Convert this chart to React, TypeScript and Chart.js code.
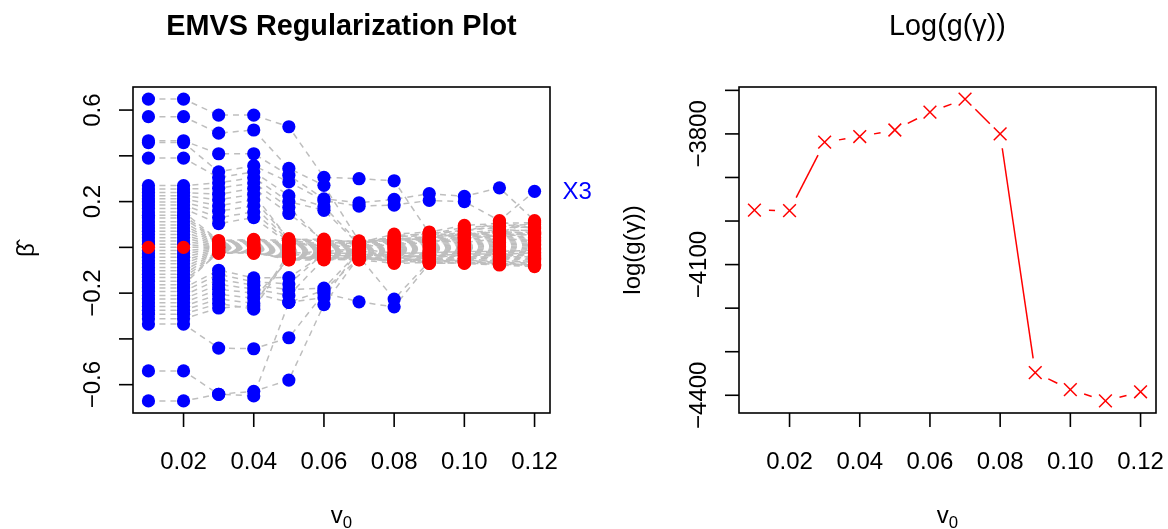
import React, { useEffect, useRef } from "react";
import { Chart, registerables } from "chart.js";

Chart.register(...registerables);

// ---------- data ----------
const v0Values = [0.01, 0.02, 0.03, 0.04, 0.05, 0.06, 0.07, 0.08, 0.09, 0.1, 0.11, 0.12];

// coefficient estimates (index = coefficient) at each v0
const beta_v001 = [0.648, 0.571, 0.466, 0.458, 0.39, 0.27, 0.255, 0.24, 0.226, 0.212, 0.198, 0.185, 0.17, 0.155, 0.14, 0.128, 0.112, 0.098, 0.085, 0.07, 0.056, 0.042, 0.028, 0.014, 0.0, -0.014, -0.028, -0.043, -0.058, -0.072, -0.088, -0.102, -0.118, -0.132, -0.148, -0.163, -0.178, -0.193, -0.21, -0.226, -0.242, -0.258, -0.275, -0.292, -0.312, -0.335, -0.54, -0.671];
const beta_v002 = [0.648, 0.571, 0.466, 0.458, 0.39, 0.27, 0.255, 0.24, 0.226, 0.212, 0.198, 0.185, 0.17, 0.155, 0.14, 0.128, 0.112, 0.098, 0.085, 0.07, 0.056, 0.042, 0.028, 0.014, 0.0, -0.014, -0.028, -0.043, -0.058, -0.072, -0.088, -0.102, -0.118, -0.132, -0.148, -0.163, -0.178, -0.193, -0.21, -0.226, -0.242, -0.258, -0.275, -0.292, -0.312, -0.335, -0.54, -0.671];
const beta_v003 = [0.578, 0.499, 0.409, 0.33, 0.305, 0.282, 0.258, 0.232, 0.208, 0.182, 0.158, 0.13, 0.104, 0.03, 0.027, 0.024, 0.021, 0.018, 0.015, 0.012, 0.009, 0.006, 0.003, 0.001, 0.0, -0.002, -0.004, -0.007, -0.01, -0.013, -0.016, -0.019, -0.022, -0.024, -0.026, -0.02, -0.1, -0.118, -0.14, -0.162, -0.183, -0.205, -0.225, -0.245, -0.265, -0.44, -0.642, -0.642];
const beta_v004 = [0.578, 0.513, 0.409, 0.357, 0.33, 0.305, 0.282, 0.258, 0.232, 0.208, 0.182, 0.155, 0.13, 0.035, 0.032, 0.028, 0.024, 0.02, 0.016, 0.012, 0.008, 0.004, 0.0, -0.002, -0.004, -0.006, -0.008, -0.01, -0.012, -0.014, -0.016, -0.018, -0.02, -0.022, -0.024, -0.026, -0.133, -0.15, -0.165, -0.182, -0.2, -0.222, -0.245, -0.27, -0.255, -0.443, -0.629, -0.649];
const beta_v005 = [0.527, 0.345, 0.315, 0.286, 0.226, 0.2, 0.175, 0.148, 0.034, 0.038, 0.028, 0.022, 0.016, 0.03, 0.024, 0.018, 0.012, 0.008, 0.004, 0.0, -0.004, -0.008, -0.012, -0.016, -0.02, -0.024, -0.028, -0.032, -0.036, -0.04, -0.044, -0.048, -0.052, -0.055, -0.05, -0.046, -0.132, -0.16, -0.185, -0.21, -0.24, -0.054, -0.044, -0.036, -0.026, -0.395, -0.58, -0.24];
const beta_v006 = [0.306, 0.271, 0.212, 0.204, 0.178, 0.162, 0.022, 0.03, 0.036, 0.026, 0.016, 0.01, 0.006, 0.032, 0.028, 0.02, 0.014, 0.01, 0.004, 0.0, -0.004, -0.008, -0.012, -0.016, -0.02, -0.024, -0.028, -0.032, -0.036, -0.04, -0.044, -0.048, -0.052, -0.055, -0.046, -0.042, -0.03, -0.026, -0.178, -0.05, -0.22, -0.034, -0.038, -0.022, -0.018, -0.2, -0.25, -0.188];
const beta_v007 = [0.3, 0.028, 0.195, 0.18, 0.02, 0.012, 0.016, 0.024, 0.022, 0.018, 0.01, 0.006, 0.004, 0.026, 0.02, 0.014, 0.008, 0.004, 0.0, -0.004, -0.008, -0.012, -0.016, -0.02, -0.024, -0.028, -0.032, -0.036, -0.04, -0.044, -0.048, -0.052, -0.055, -0.05, -0.046, -0.042, -0.03, -0.026, -0.018, -0.054, -0.01, -0.038, -0.034, -0.014, -0.006, -0.238, -0.04, -0.046];
const beta_v008 = [0.291, 0.04, 0.21, 0.185, 0.058, 0.052, 0.046, 0.036, 0.03, 0.026, 0.02, 0.016, 0.012, 0.042, 0.034, 0.028, 0.022, 0.018, 0.014, 0.008, 0.004, 0.0, -0.004, -0.008, -0.012, -0.016, -0.02, -0.024, -0.028, -0.032, -0.038, -0.044, -0.05, -0.056, -0.062, -0.066, -0.04, -0.046, -0.034, -0.07, -0.054, -0.06, -0.064, -0.042, -0.026, -0.26, -0.226, -0.048];
const beta_v009 = [0.062, 0.032, 0.235, 0.205, 0.067, 0.058, 0.052, 0.046, 0.04, 0.036, 0.03, 0.026, 0.022, 0.062, 0.048, 0.042, 0.034, 0.028, 0.022, 0.016, 0.01, 0.006, 0.002, -0.002, -0.006, -0.01, -0.014, -0.018, -0.022, -0.026, -0.03, -0.036, -0.042, -0.048, -0.054, -0.06, -0.064, -0.07, -0.04, -0.066, -0.058, -0.052, -0.044, -0.038, -0.024, -0.07, -0.062, -0.034];
const beta_v010 = [0.05, 0.022, 0.223, 0.2, 0.096, 0.088, 0.078, 0.068, 0.062, 0.056, 0.05, 0.045, 0.04, 0.072, 0.058, 0.052, 0.044, 0.036, 0.03, 0.024, 0.018, 0.012, 0.008, 0.004, 0.0, -0.004, -0.008, -0.012, -0.016, -0.02, -0.026, -0.032, -0.038, -0.044, -0.05, -0.056, -0.062, -0.068, -0.065, -0.07, -0.048, -0.042, -0.034, -0.028, -0.018, -0.065, -0.056, -0.024];
const beta_v011 = [0.072, 0.038, 0.26, 0.117, 0.105, 0.095, 0.085, 0.112, 0.078, 0.066, 0.06, 0.055, 0.05, 0.092, 0.07, 0.062, 0.052, 0.046, 0.04, 0.034, 0.028, 0.022, 0.016, 0.01, 0.004, -0.002, -0.008, -0.014, -0.02, -0.026, -0.032, -0.038, -0.046, -0.054, -0.06, -0.066, -0.07, -0.074, -0.07, -0.077, -0.05, -0.042, -0.036, -0.03, -0.018, -0.072, -0.062, -0.024];
const beta_v012 = [0.055, 0.03, 0.117, 0.245, 0.108, 0.1, 0.09, 0.082, 0.072, 0.112, 0.066, 0.06, 0.056, 0.086, 0.076, 0.068, 0.062, 0.05, 0.044, 0.038, 0.032, 0.026, 0.02, 0.014, 0.008, 0.002, -0.004, -0.01, -0.016, -0.022, -0.028, -0.036, -0.044, -0.052, -0.06, -0.068, -0.074, -0.078, -0.08, -0.084, -0.048, -0.04, -0.032, -0.024, -0.012, -0.076, -0.064, -0.02];

const betaColumns = [beta_v001, beta_v002, beta_v003, beta_v004, beta_v005, beta_v006, beta_v007, beta_v008, beta_v009, beta_v010, beta_v011, beta_v012];

// |beta| above this value is shown as selected (blue), otherwise red
const selectThreshold = [0.005, 0.005, 0.06, 0.06, 0.09, 0.09, 0.1, 0.1, 0.1, 0.1, 0.15, 0.15];

const labelledCoef = 3;
const labelledName = "X3";

const logG = [-3975, -3976, -3819, -3806, -3791, -3750, -3720, -3800, -4348, -4387, -4413, -4392];

const xTicks = [0.02, 0.04, 0.06, 0.08, 0.1, 0.12];
const xTickLabels = ["0.02", "0.04", "0.06", "0.08", "0.10", "0.12"];
const betaTicks = [-0.6, -0.4, -0.2, 0, 0.2, 0.4, 0.6];
const betaTickLabels = ["\u22120.6", "", "\u22120.2", "", "0.2", "", "0.6"];
const logGTicks = [-4400, -4300, -4200, -4100, -4000, -3900, -3800, -3700];
const logGTickLabels = ["\u22124400", "", "", "\u22124100", "", "", "\u22123800", ""];

// ---------- drawing helpers ----------
const FONT = "'Liberation Sans', Arial, Helvetica, sans-serif";

type AxesCfg = {
  title: string;
  titleBold: boolean;
  yTitle: string;
  xTicks: number[];
  xLabels: string[];
  yTicks: number[];
  yLabels: string[];
};

function rAxesPlugin(cfg: AxesCfg) {
  return {
    id: "rAxes",
    afterDraw(chart: any) {
      const ctx: CanvasRenderingContext2D = chart.ctx;
      const { left, right, top, bottom } = chart.chartArea;
      const xs = chart.scales.x;
      const ys = chart.scales.y;
      const cx = (left + right) / 2;
      const cy = (top + bottom) / 2;
      ctx.save();
      ctx.strokeStyle = "#000";
      ctx.fillStyle = "#000";
      ctx.lineWidth = 1.6;
      ctx.strokeRect(left, top, right - left, bottom - top);
      // x ticks
      ctx.font = `24px ${FONT}`;
      ctx.textAlign = "center";
      ctx.textBaseline = "alphabetic";
      cfg.xTicks.forEach((t, i) => {
        const px = xs.getPixelForValue(t);
        ctx.beginPath();
        ctx.moveTo(px, bottom);
        ctx.lineTo(px, bottom + 14);
        ctx.stroke();
        if (cfg.xLabels[i]) ctx.fillText(cfg.xLabels[i], px, bottom + 56);
      });
      // y ticks
      cfg.yTicks.forEach((t, i) => {
        const py = ys.getPixelForValue(t);
        ctx.beginPath();
        ctx.moveTo(left, py);
        ctx.lineTo(left - 14, py);
        ctx.stroke();
        if (cfg.yLabels[i]) {
          ctx.save();
          ctx.translate(left - 33, py);
          ctx.rotate(-Math.PI / 2);
          ctx.textAlign = "center";
          ctx.textBaseline = "alphabetic";
          ctx.fillText(cfg.yLabels[i], 0, 0);
          ctx.restore();
        }
      });
      // title
      ctx.font = `${cfg.titleBold ? "bold " : ""}28.8px ${FONT}`;
      ctx.textAlign = "center";
      ctx.fillText(cfg.title, cx, 35);
      // x title v0
      ctx.font = `24px ${FONT}`;
      const wv = ctx.measureText("v").width;
      ctx.font = `16.8px ${FONT}`;
      const w0 = ctx.measureText("0").width;
      const startX = cx - (wv + w0) / 2;
      ctx.textAlign = "left";
      ctx.font = `24px ${FONT}`;
      ctx.fillText("v", startX, bottom + 110);
      ctx.font = `16.8px ${FONT}`;
      ctx.fillText("0", startX + wv, bottom + 115);
      // y title
      ctx.save();
      ctx.font = `24px ${FONT}`;
      ctx.translate(left - 99, cy);
      ctx.rotate(-Math.PI / 2);
      ctx.textAlign = "center";
      ctx.fillText(cfg.yTitle, 0, 0);
      ctx.restore();
      ctx.restore();
    },
  };
}

const labelPlugin = {
  id: "pathLabel",
  afterDraw(chart: any) {
    const ctx: CanvasRenderingContext2D = chart.ctx;
    const last = v0Values.length - 1;
    const px = chart.scales.x.getPixelForValue(v0Values[last]);
    const py = chart.scales.y.getPixelForValue(betaColumns[last][labelledCoef]);
    ctx.save();
    ctx.font = `24px ${FONT}`;
    ctx.fillStyle = "#0000FF";
    ctx.textAlign = "left";
    ctx.textBaseline = "middle";
    ctx.fillText(labelledName, px + 28, py + 1);
    ctx.restore();
  },
};

const gapLinePlugin = {
  id: "gapLine",
  afterDatasetsDraw(chart: any) {
    const ctx: CanvasRenderingContext2D = chart.ctx;
    const pts = chart.getDatasetMeta(0).data;
    const gap = 14.5;
    ctx.save();
    ctx.strokeStyle = "#FF0000";
    ctx.lineWidth = 1.5;
    for (let i = 0; i < pts.length - 1; i++) {
      const a = pts[i];
      const b = pts[i + 1];
      const dx = b.x - a.x;
      const dy = b.y - a.y;
      const d = Math.hypot(dx, dy);
      if (d <= 2 * gap) continue;
      const ux = dx / d;
      const uy = dy / d;
      ctx.beginPath();
      ctx.moveTo(a.x + ux * gap, a.y + uy * gap);
      ctx.lineTo(b.x - ux * gap, b.y - uy * gap);
      ctx.stroke();
    }
    ctx.restore();
  },
};

function leftConfig(): any {
  const nCoef = betaColumns[0].length;
  const redPts: { x: number; y: number }[] = [];
  const bluePts: { x: number; y: number }[] = [];
  v0Values.forEach((v, j) => {
    betaColumns[j].forEach((b) => {
      if (Math.abs(b) > selectThreshold[j]) bluePts.push({ x: v, y: b });
      else redPts.push({ x: v, y: b });
    });
  });
  const paths = Array.from({ length: nCoef }, (_, i) => ({
    data: v0Values.map((v, j) => ({ x: v, y: betaColumns[j][i] })),
    showLine: true,
    borderColor: "#BEBEBE",
    borderWidth: 1.5,
    borderDash: [6, 5],
    pointRadius: 0,
    fill: false,
    tension: 0,
    order: 2,
  }));
  return {
    type: "scatter",
    data: {
      datasets: [
        { data: redPts, pointRadius: 6.6, pointBackgroundColor: "#FF0000", pointBorderWidth: 0, showLine: false, order: 0 },
        { data: bluePts, pointRadius: 6.6, pointBackgroundColor: "#0000FF", pointBorderWidth: 0, showLine: false, order: 1 },
        ...paths,
      ],
    },
    options: {
      responsive: false,
      animation: false,
      devicePixelRatio: 1,
      events: [],
      layout: { padding: { left: 133, right: 50, top: 87, bottom: 116 } },
      plugins: { legend: { display: false }, tooltip: { enabled: false }, title: { display: false } },
      scales: {
        x: { type: "linear", min: 0.0056, max: 0.1244, display: false },
        y: { type: "linear", min: -0.7238, max: 0.7008, display: false },
      },
    },
    plugins: [
      rAxesPlugin({
        title: "EMVS Regularization Plot",
        titleBold: true,
        yTitle: "\u03B2\u0302",
        xTicks,
        xLabels: xTickLabels,
        yTicks: betaTicks,
        yLabels: betaTickLabels,
      }),
      labelPlugin,
    ],
  };
}

function rightConfig(): any {
  return {
    type: "scatter",
    data: {
      datasets: [
        {
          data: v0Values.map((v, j) => ({ x: v, y: logG[j] })),
          pointStyle: "crossRot",
          pointRadius: 9,
          pointBorderColor: "#FF0000",
          pointBackgroundColor: "rgba(0,0,0,0)",
          pointBorderWidth: 1.5,
          showLine: false,
        },
      ],
    },
    options: {
      responsive: false,
      animation: false,
      devicePixelRatio: 1,
      events: [],
      layout: { padding: { left: 139, right: 12, top: 87, bottom: 116 } },
      plugins: { legend: { display: false }, tooltip: { enabled: false }, title: { display: false } },
      scales: {
        x: { type: "linear", min: 0.0056, max: 0.1244, display: false },
        y: { type: "linear", min: -4440.7, max: -3692.3, display: false },
      },
    },
    plugins: [
      gapLinePlugin,
      rAxesPlugin({
        title: "Log(g(\u03B3))",
        titleBold: false,
        yTitle: "log(g(\u03B3))",
        xTicks,
        xLabels: xTickLabels,
        yTicks: logGTicks,
        yLabels: logGTickLabels,
      }),
    ],
  };
}

export default function App() {
  const leftRef = useRef<HTMLCanvasElement>(null);
  const rightRef = useRef<HTMLCanvasElement>(null);
  useEffect(() => {
    const c1 = new Chart(leftRef.current as HTMLCanvasElement, leftConfig());
    const c2 = new Chart(rightRef.current as HTMLCanvasElement, rightConfig());
    return () => {
      c1.destroy();
      c2.destroy();
    };
  }, []);
  return (
    <div style={{ position: "absolute", left: 0, top: 0, width: 1168, height: 529, background: "#ffffff" }}>
      <canvas ref={leftRef} width={600} height={529} style={{ position: "absolute", left: 0, top: 0, width: 600, height: 529 }} />
      <canvas ref={rightRef} width={568} height={529} style={{ position: "absolute", left: 600, top: 0, width: 568, height: 529 }} />
    </div>
  );
}
